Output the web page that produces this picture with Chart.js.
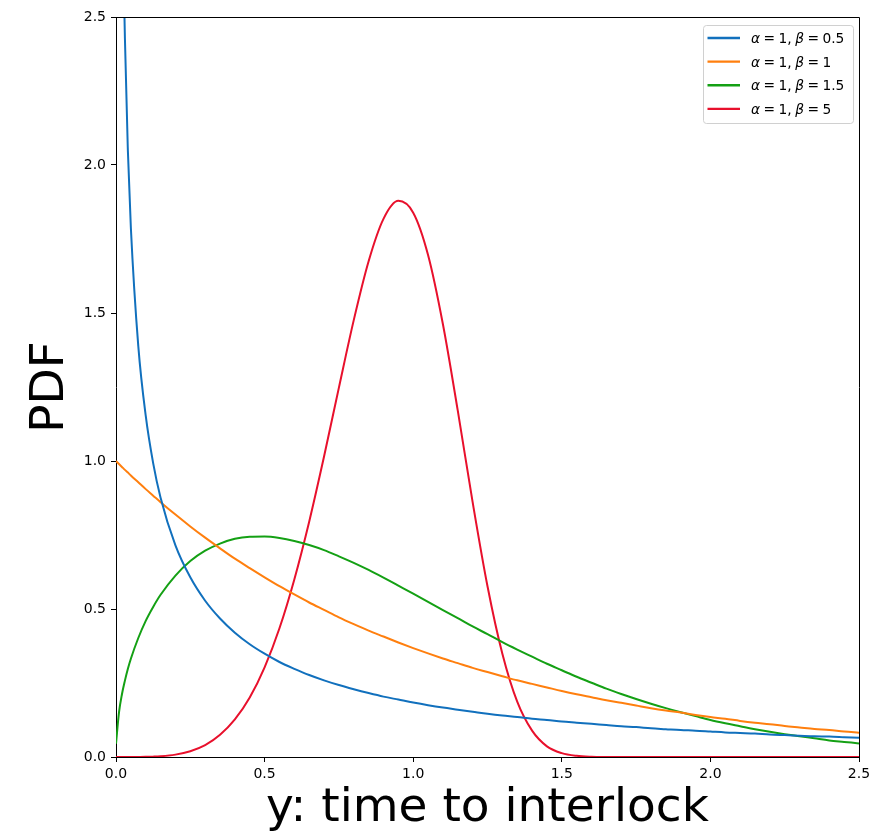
<!DOCTYPE html>
<html>
<head>
<meta charset="utf-8">
<script src="https://cdn.jsdelivr.net/npm/chart.js@4"></script>
<style>
html,body{margin:0;padding:0;background:#fff;}
#wrap{width:870px;height:832px;}
</style>
</head>
<body>
<div id="wrap"><canvas id="c" width="870" height="832"></canvas></div>
<script>
// ---- data ----
const xValues = [0, 0.01, 0.02, 0.03, 0.04, 0.05, 0.075, 0.1, 0.125, 0.15,
  0.2, 0.25, 0.3, 0.35, 0.4, 0.45, 0.5, 0.55, 0.6, 0.65, 0.7, 0.75, 0.8, 0.85, 0.9, 0.95,
  1.0, 1.05, 1.1, 1.15, 1.2, 1.25, 1.3, 1.35, 1.4, 1.45, 1.5, 1.55, 1.6, 1.65, 1.7, 1.75,
  1.8, 1.85, 1.9, 1.95, 2.0, 2.05, 2.1, 2.15, 2.2, 2.25, 2.3, 2.35, 2.4, 2.45, 2.5];

const blueValues = [null, 4.524, 3.069, 2.428, 2.047, 1.788, 1.388, 1.153, 0.993, 0.876,
  0.715, 0.607, 0.528, 0.468, 0.420, 0.381, 0.349, 0.321, 0.298, 0.277, 0.259, 0.243, 0.229, 0.216, 0.204, 0.194,
  0.184, 0.175, 0.167, 0.160, 0.153, 0.146, 0.140, 0.135, 0.129, 0.125, 0.120, 0.116, 0.112, 0.108, 0.104, 0.101,
  0.097, 0.094, 0.091, 0.089, 0.086, 0.083, 0.081, 0.079, 0.076, 0.074, 0.072, 0.070, 0.069, 0.067, 0.065];

const orangeValues = [1.000, 0.990, 0.980, 0.970, 0.961, 0.951, 0.928, 0.905, 0.883, 0.861,
  0.819, 0.779, 0.741, 0.705, 0.670, 0.638, 0.607, 0.577, 0.549, 0.522, 0.497, 0.472, 0.449, 0.427, 0.407, 0.387,
  0.368, 0.350, 0.333, 0.317, 0.301, 0.287, 0.273, 0.259, 0.247, 0.235, 0.223, 0.212, 0.202, 0.192, 0.183, 0.174,
  0.165, 0.157, 0.150, 0.142, 0.135, 0.129, 0.122, 0.116, 0.111, 0.105, 0.100, 0.095, 0.091, 0.086, 0.082];

const greenValues = [0.045, 0.150, 0.212, 0.258, 0.298, 0.332, 0.402, 0.460, 0.507, 0.548,
  0.613, 0.662, 0.697, 0.721, 0.737, 0.744, 0.745, 0.740, 0.730, 0.716, 0.699, 0.678, 0.656, 0.632, 0.606, 0.579,
  0.552, 0.524, 0.496, 0.469, 0.441, 0.415, 0.388, 0.363, 0.339, 0.315, 0.293, 0.271, 0.251, 0.231, 0.213, 0.196,
  0.180, 0.165, 0.151, 0.138, 0.125, 0.114, 0.104, 0.094, 0.085, 0.077, 0.070, 0.063, 0.056, 0.051, 0.046];

const redValues = [0, 0, 0, 0, 0, 0, 0.0002, 0.0005, 0.0012, 0.0025,
  0.008, 0.0195, 0.040, 0.075, 0.127, 0.201, 0.303, 0.435, 0.600, 0.795, 1.015, 1.248, 1.476, 1.675, 1.818, 1.879,
  1.839, 1.696, 1.462, 1.170, 0.861, 0.577, 0.349, 0.187, 0.089, 0.036, 0.013, 0.004, 0.001, 0.0002, 0, 0,
  0, 0, 0, 0, 0, 0, 0, 0, 0, 0, 0, 0, 0, 0, 0];

const seriesLabels = ['α = 1, β = 0.5', 'α = 1, β = 1', 'α = 1, β = 1.5', 'α = 1, β = 5'];
const seriesColors = ['#1170bd', '#ff7f0e', '#14a014', '#e8102c'];
const tickValues = [0, 0.5, 1.0, 1.5, 2.0, 2.5];
const xTitle = 'y: time to interlock';
const yTitle = 'PDF';

// ---- helpers ----
const FONT = '"DejaVu Sans", sans-serif';
Chart.defaults.font.family = FONT;

function toPoints(vals) {
  return xValues.map((x, i) => ({ x: x, y: vals[i] }));
}

function drawMathLabel(ctx, text, x, y, size) {
  let cx = x;
  ctx.textBaseline = 'alphabetic';
  ctx.textAlign = 'left';
  ctx.fillStyle = '#000';
  for (const ch of text) {
    if (ch === ' ') { cx += size * 0.25; continue; }
    const greek = /[α-ωΑ-Ω]/.test(ch);
    ctx.font = (greek ? 'italic ' : '') + size + 'px ' + FONT;
    ctx.fillText(ch, cx, y);
    cx += ctx.measureText(ch).width;
  }
}

const framePlugin = {
  id: 'frame',
  afterDatasetsDraw(chart) {
    const { ctx, chartArea: a } = chart;
    const l = Math.round(a.left), t = Math.round(a.top), r = Math.round(a.right), b = Math.round(a.bottom);
    ctx.save();
    ctx.strokeStyle = '#000';
    ctx.lineWidth = 1;
    ctx.beginPath();
    ctx.moveTo(l + 0.5, t + 0.5); ctx.lineTo(r + 0.5, t + 0.5);
    ctx.moveTo(r + 0.5, t + 0.5); ctx.lineTo(r + 0.5, b + 0.5);
    ctx.stroke();
    ctx.restore();
  }
};

const legendPlugin = {
  id: 'boxLegend',
  afterDraw(chart) {
    const { ctx, chartArea: a } = chart;
    const fs = 13.8;
    const w = 150, h = 98;
    const x0 = Math.round(a.right - 6 - w), y0 = Math.round(a.top + 8);
    ctx.save();
    ctx.beginPath();
    if (ctx.roundRect) ctx.roundRect(x0 + 0.5, y0 + 0.5, w, h, 3); else ctx.rect(x0 + 0.5, y0 + 0.5, w, h);
    ctx.fillStyle = 'rgba(255,255,255,0.8)';
    ctx.fill();
    ctx.strokeStyle = '#d0d0d0';
    ctx.lineWidth = 1;
    ctx.stroke();
    chart.data.datasets.forEach((ds, i) => {
      const cy = y0 + 13 + i * 23.63;
      ctx.strokeStyle = ds.borderColor;
      ctx.lineWidth = 2.4;
      ctx.lineCap = 'butt';
      ctx.beginPath();
      ctx.moveTo(x0 + 4.5, cy);
      ctx.lineTo(x0 + 37, cy);
      ctx.stroke();
      drawMathLabel(ctx, ds.label, x0 + 48, cy + 0.365 * fs, fs);
    });
    ctx.restore();
  }
};

const allValues = [blueValues, orangeValues, greenValues, redValues];

const axisCommon = {
  type: 'linear',
  min: 0,
  max: 2.5,
  afterBuildTicks: (s) => { s.ticks = tickValues.map(v => ({ value: v })); },
  grid: { display: true, drawOnChartArea: false, drawTicks: true, tickLength: 5, color: '#000', lineWidth: 1 },
  border: { display: true, color: '#000', width: 1 },
};

new Chart(document.getElementById('c'), {
  type: 'line',
  data: {
    datasets: allValues.map((vals, i) => ({
      label: seriesLabels[i],
      data: toPoints(vals),
      borderColor: seriesColors[i],
      backgroundColor: seriesColors[i],
      borderWidth: 2,
      pointRadius: 0,
      fill: false,
      cubicInterpolationMode: 'monotone',
      spanGaps: false
    }))
  },
  options: {
    responsive: false,
    animation: false,
    layout: { padding: { top: 17, right: 11, left: 0, bottom: 0 } },
    plugins: { legend: { display: false }, tooltip: { enabled: false }, title: { display: false } },
    scales: {
      x: Object.assign({}, axisCommon, {
        position: 'bottom',
        ticks: { callback: v => Number(v).toFixed(1), font: { size: 14 }, color: '#000', padding: 4, maxRotation: 0, autoSkip: false },
        title: { display: true, text: xTitle, color: '#000', font: { size: 47, lineHeight: 1 }, padding: { top: 0, bottom: 0 } },
        afterFit: (s) => { s.height = 75; s.paddingLeft = 0; s.paddingRight = 0; }
      }),
      y: Object.assign({}, axisCommon, {
        position: 'left',
        ticks: { callback: v => Number(v).toFixed(1), font: { size: 14 }, color: '#000', padding: 5, autoSkip: false },
        title: { display: true, text: yTitle, color: '#000', font: { size: 47, lineHeight: 1 }, padding: { top: 27, bottom: 0 } },
        afterFit: (s) => { s.width = 116; s.paddingTop = 0; s.paddingBottom = 0; }
      })
    }
  },
  plugins: [framePlugin, legendPlugin]
});
</script>
</body>
</html>
